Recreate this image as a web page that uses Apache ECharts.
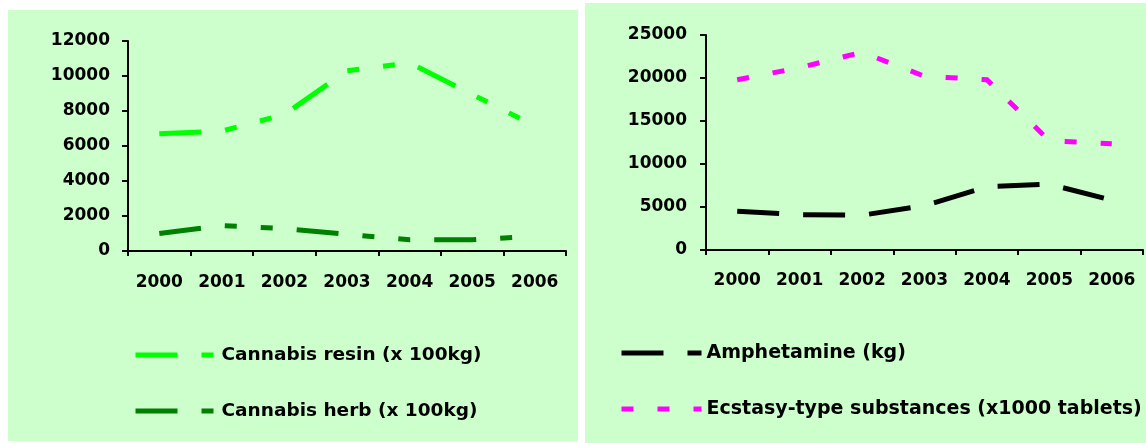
<!DOCTYPE html>
<html>
<head>
<meta charset="utf-8">
<script src="https://cdn.jsdelivr.net/npm/echarts@6/dist/echarts.min.js"></script>
<style>
  html, body { margin: 0; padding: 0; background: #ffffff; }
  #wrap { position: relative; width: 1146px; height: 443px; overflow: hidden; }
  .panel { position: absolute; background: #CCFFCC; }
  #chart { position: absolute; left: 0; top: 0; width: 1146px; height: 443px; }
</style>
</head>
<body>
<div id="wrap">
  <div class="panel" style="left:8px; top:10px; width:570px; height:431px;"></div>
  <div class="panel" style="left:585px; top:3px; width:561px; height:440px;"></div>
  <div id="chart"></div>
</div>
<script>
const years = ['2000', '2001', '2002', '2003', '2004', '2005', '2006'];
const cannabisResin = [6700, 6850, 7800, 10300, 10750, 8950, 7150];
const cannabisHerb = [1000, 1450, 1280, 950, 640, 640, 850];
const amphetamine = [4500, 4100, 4050, 5150, 7350, 7650, 5800];
const ecstasy = [19800, 21200, 23000, 20200, 19800, 12700, 12350];
const leftTicks = { min: 0, max: 12000, interval: 2000 };
const rightTicks = { min: 0, max: 25000, interval: 5000 };

const names = {
  resin: 'Cannabis resin (x 100kg)',
  herb: 'Cannabis herb (x 100kg)',
  amph: 'Amphetamine (kg)',
  ecst: 'Ecstasy-type substances (x1000 tablets)'
};

const FONT = 'DejaVu Sans';
const labelStyle = { color: '#000', fontFamily: FONT, fontWeight: 'bold', fontSize: 17 };
const axisLineStyle = { color: '#000', width: 2 };

function xAxis(gridIndex, margin) {
  return {
    type: 'category', gridIndex: gridIndex, data: years, boundaryGap: true,
    axisLine: { show: true, lineStyle: axisLineStyle },
    axisTick: { show: true, length: 5, lineStyle: axisLineStyle },
    axisLabel: Object.assign({ margin: margin, interval: 0 }, labelStyle),
    splitLine: { show: false }
  };
}
function yAxis(gridIndex, ticks, margin) {
  return {
    type: 'value', gridIndex: gridIndex, min: ticks.min, max: ticks.max, interval: ticks.interval,
    axisLine: { show: true, lineStyle: axisLineStyle },
    axisTick: { show: true, length: 6, lineStyle: axisLineStyle },
    axisLabel: Object.assign({ margin: margin, formatter: function (v) { return String(v); } }, labelStyle),
    splitLine: { show: false }
  };
}
function lineSeries(name, data, color, dash, idx) {
  return {
    name: name, type: 'line', data: data, xAxisIndex: idx, yAxisIndex: idx,
    symbol: 'none', showSymbol: false, smooth: false,
    lineStyle: { color: color, width: 5, type: dash, cap: 'butt', join: 'miter' },
    itemStyle: { color: color }
  };
}
const dashDotDot = [42, 24, 12, 24, 12, 24];
const longDash = [42, 24];
const squareDot = [12, 24];

const legendBase = {
  orient: 'vertical', itemHeight: 20, itemGap: 36,
  lineStyle: { width: 5 },
  itemStyle: { opacity: 0, borderWidth: 0 },
  selectedMode: false
};

const chart = echarts.init(document.getElementById('chart'), null, { renderer: 'canvas' });
chart.setOption({
  backgroundColor: 'transparent',
  animation: false,
  grid: [
    { left: 128, top: 41, width: 438, height: 210, containLabel: false },
    { left: 706, top: 35, width: 437, height: 215, containLabel: false }
  ],
  xAxis: [xAxis(0, 23), xAxis(1, 22)],
  yAxis: [yAxis(0, leftTicks, 18), yAxis(1, rightTicks, 19)],
  legend: [
    Object.assign({}, legendBase, {
      data: [names.resin, names.herb], left: 128, top: 340, itemWidth: 81,
      textStyle: { color: '#000', fontFamily: FONT, fontWeight: 'bold', fontSize: 18.5, lineHeight: 20 }
    }),
    Object.assign({}, legendBase, {
      data: [names.amph, names.ecst], left: 614, top: 338, itemWidth: 80,
      textStyle: { color: '#000', fontFamily: FONT, fontWeight: 'bold', fontSize: 19, lineHeight: 20 }
    })
  ],
  series: [
    lineSeries(names.resin, cannabisResin, '#00FF00', dashDotDot, 0),
    lineSeries(names.herb, cannabisHerb, '#008000', dashDotDot, 0),
    lineSeries(names.amph, amphetamine, '#000000', longDash, 1),
    lineSeries(names.ecst, ecstasy, '#FF00FF', squareDot, 1)
  ]
});
</script>
</body>
</html>
